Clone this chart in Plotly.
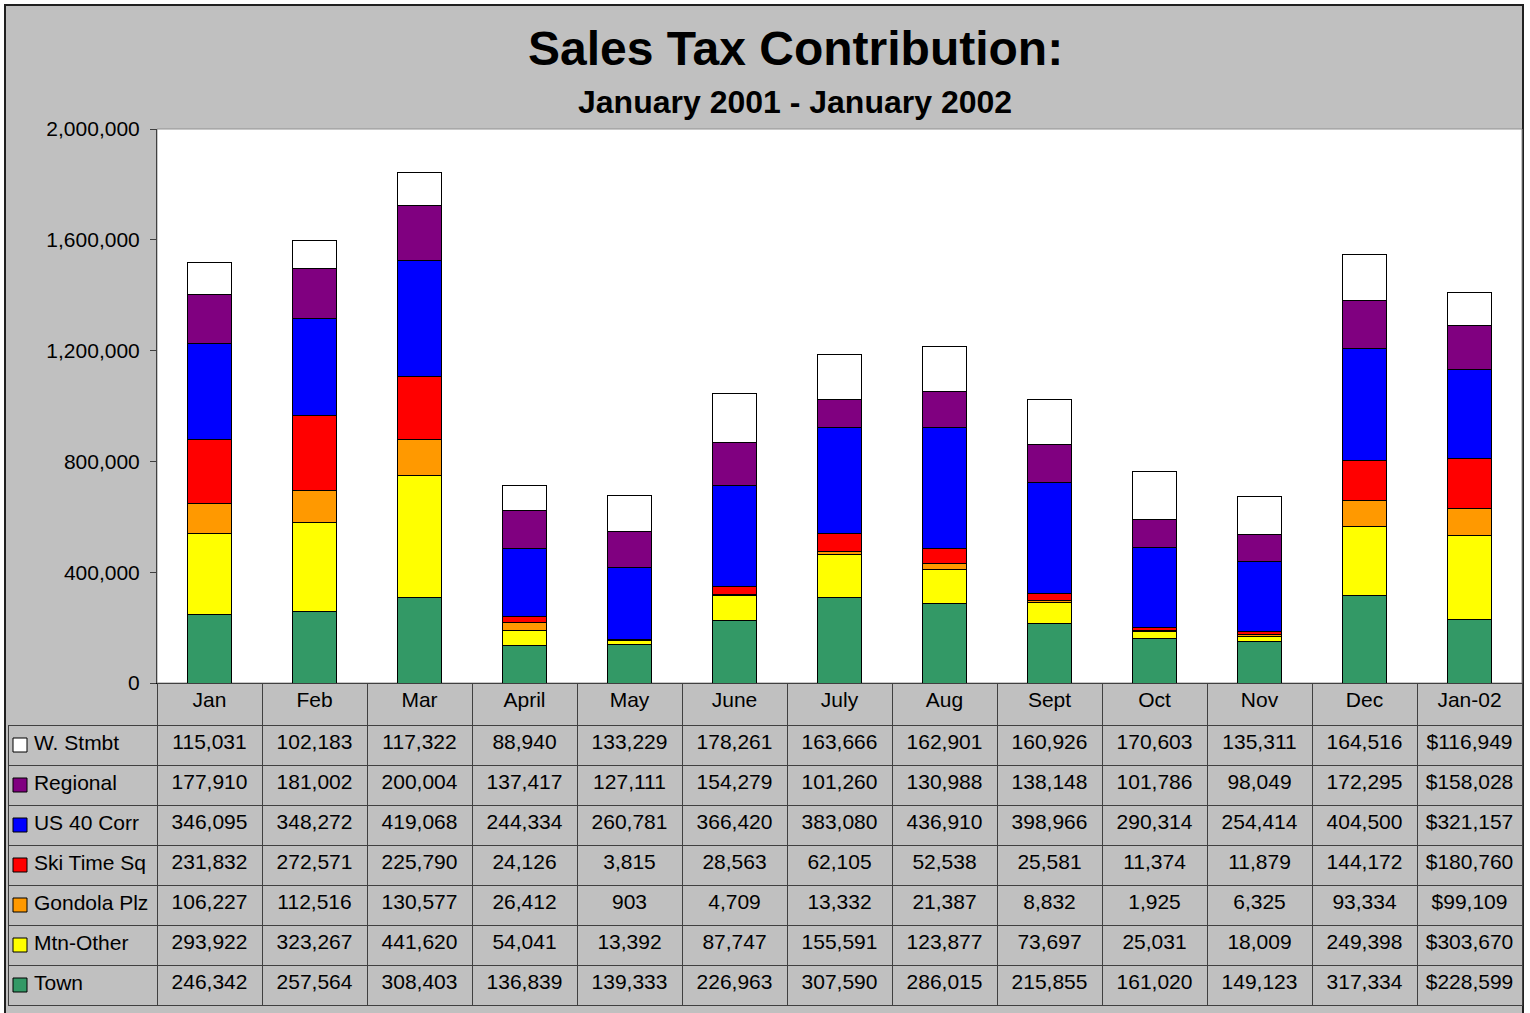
import plotly.graph_objects as go

# ── data ──────────────────────────────────────────────
MONTHS = ["Jan", "Feb", "Mar", "April", "May", "June", "July",
          "Aug", "Sept", "Oct", "Nov", "Dec", "Jan-02"]
PREFIX = [""] * 12 + ["$"]   # Jan-02 column is shown as currency

TOWN = [246342, 257564, 308403, 136839, 139333, 226963, 307590,
        286015, 215855, 161020, 149123, 317334, 228599]
MTN_OTHER = [293922, 323267, 441620, 54041, 13392, 87747, 155591,
             123877, 73697, 25031, 18009, 249398, 303670]
GONDOLA = [106227, 112516, 130577, 26412, 903, 4709, 13332,
           21387, 8832, 1925, 6325, 93334, 99109]
SKI_TIME = [231832, 272571, 225790, 24126, 3815, 28563, 62105,
            52538, 25581, 11374, 11879, 144172, 180760]
US40 = [346095, 348272, 419068, 244334, 260781, 366420, 383080,
        436910, 398966, 290314, 254414, 404500, 321157]
REGIONAL = [177910, 181002, 200004, 137417, 127111, 154279, 101260,
            130988, 138148, 101786, 98049, 172295, 158028]
W_STMBT = [115031, 102183, 117322, 88940, 133229, 178261, 163666,
           162901, 160926, 170603, 135311, 164516, 116949]

# bottom -> top of the stack
SERIES = [
    ("Town", TOWN, "#339966"),
    ("Mtn-Other", MTN_OTHER, "#FFFF00"),
    ("Gondola Plz", GONDOLA, "#FF9900"),
    ("Ski Time Sq", SKI_TIME, "#FF0000"),
    ("US 40 Corr", US40, "#0000FF"),
    ("Regional", REGIONAL, "#800080"),
    ("W. Stmbt", W_STMBT, "#FFFFFF"),
]

W, H = 1530, 1013
GRAY = "#C0C0C0"
LINE = "#404040"
FONT = "Arial, Liberation Sans, sans-serif"


def px(x):
    return x / W


def py(y):
    return 1 - y / H


fig = go.Figure()

# ── stacked bars ──
for name, vals, clr in SERIES:
    fig.add_trace(go.Bar(
        x=MONTHS, y=vals, name=name, marker_color=clr,
        marker_line=dict(color="#000000", width=1),
        showlegend=False,
        hovertemplate=name + "<br>%{x}: %{y:,}<extra></extra>"))

# ── data table under the chart ──
rows = SERIES[::-1]   # table lists top of stack first
cols = [[""] * len(rows)]
for i in range(len(MONTHS)):
    cols.append([f"{PREFIX[i]}{vals[i]:,}" for _, vals, _ in rows])

clear = "rgba(0,0,0,0)"
fig.add_trace(go.Table(
    domain=dict(x=[px(8), px(1522)], y=[0, py(683)]),
    columnwidth=[149] + [105] * len(MONTHS),
    header=dict(values=[""] + MONTHS, height=42,
                fill_color=[clear] + [GRAY] * len(MONTHS),
                line=dict(color=[clear] + [LINE] * len(MONTHS), width=1),
                font=dict(family=FONT, size=21, color="black"),
                align="center"),
    cells=dict(values=cols, height=40,
               fill_color=[clear] + [GRAY] * len(MONTHS),
               line=dict(color=LINE, width=1),
               font=dict(family=FONT, size=21, color="black"),
               align="center"),
))

# legend keys + labels in the first table column
fig.add_trace(go.Scatter(
    x=[12] * len(rows), y=[r[0] for r in rows],
    xaxis="x3", yaxis="y3", mode="markers+text",
    marker=dict(symbol="square", size=14, color=[r[2] for r in rows],
                line=dict(color="#000000", width=1)),
    text=["\u2009" + r[0] for r in rows], textposition="middle right",
    textfont=dict(family=FONT, size=21, color="black"),
    cliponaxis=False, showlegend=False, hoverinfo="skip"))

fig.add_annotation(text="<b>Sales Tax Contribution:</b>", x=px(795), y=py(48),
                   xref="paper", yref="paper", xanchor="center", yanchor="middle",
                   showarrow=False, font=dict(family=FONT, size=48, color="black"))
fig.add_annotation(text="<b>January 2001 - January 2002</b>", x=px(795), y=py(102),
                   xref="paper", yref="paper", xanchor="center", yanchor="middle",
                   showarrow=False, font=dict(family=FONT, size=32, color="black"))

# chart area (gray, dark border), then the white plot area
fig.add_shape(type="rect", xref="paper", yref="paper",
              x0=px(5), x1=px(1523), y0=py(1030), y1=py(5),
              fillcolor=GRAY, line=dict(color="#202020", width=2), layer="below")
fig.add_shape(type="rect", xref="x domain", yref="y domain", x0=0, x1=1, y0=0, y1=1,
              fillcolor="white", line=dict(color="#909090", width=1), layer="below")

fig.update_layout(
    width=W, height=H, margin=dict(l=0, r=0, t=0, b=0, autoexpand=False),
    paper_bgcolor="white", plot_bgcolor="rgba(0,0,0,0)",
    barmode="stack", bargap=0.58,
    font=dict(family=FONT, size=21, color="black"),
    xaxis=dict(domain=[px(157), px(1522)], showticklabels=False, ticks="",
               showline=True, linecolor="#000000", linewidth=1,
               showgrid=False, fixedrange=True, automargin=False),
    yaxis=dict(domain=[py(683), py(129)], range=[0, 2000000], dtick=400000,
               tickformat=",d", ticks="outside", ticklen=6, tickcolor=LINE,
               ticklabelstandoff=6, showline=True, linecolor=LINE, linewidth=1,
               showgrid=False, zeroline=False, fixedrange=True, automargin=False,
               tickfont=dict(family=FONT, size=21, color="black")),
    xaxis3=dict(domain=[px(8), px(157)], range=[0, 149], anchor="y3",
                visible=False, fixedrange=True, automargin=False),
    yaxis3=dict(domain=[py(1005), py(725)], type="category",
                categoryorder="array", categoryarray=[r[0] for r in rows],
                range=[len(rows) - 0.5, -0.5], anchor="x3",
                visible=False, fixedrange=True, automargin=False),
)

fig.write_html("out.html", config={"displayModeBar": False},
               post_script="document.body.style.margin='0';")
